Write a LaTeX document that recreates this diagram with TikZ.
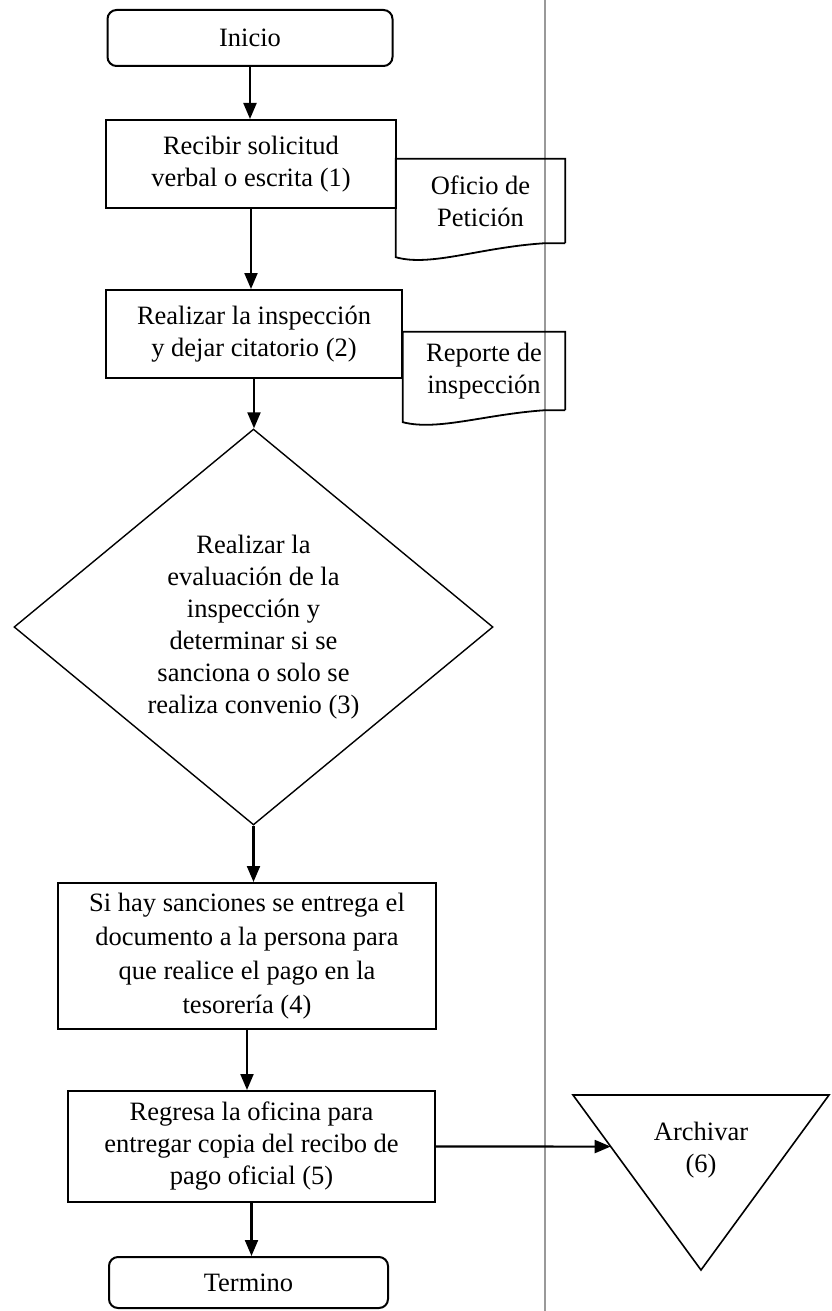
\documentclass[tikz,border=0pt]{standalone}
\usepackage{fontspec}
\setmainfont{Liberation Serif}
\usepackage{tikz}
\usetikzlibrary{arrows.meta, shapes.geometric}

\begin{document}
\begin{tikzpicture}[x=1pt, y=-1pt,
		font=\fontsize{26.5}{32}\selectfont,
		proceso/.style={draw, line width=2pt, align=center, inner sep=0pt},
		terminal/.style={proceso, rounded corners=9pt},
		decision/.style={diamond, draw, line width=1.4pt, align=center, inner sep=0pt},
		documento/.style={align=center, inner sep=0pt},
		borde/.style={line width=1.8pt},
		flecha/.style={line width=2.1pt, -{Triangle[length=16pt,width=13pt]}},
		carril/.style={gray!80, line width=2pt}]
		\useasboundingbox (0,0) rectangle (831,1311);

		% Carril
		\draw[carril] (544.5,0) -- (544.5,1311);

		% Pasos
		\node[terminal, minimum width=285pt, minimum height=56pt] (inicio) at (250,38) {Inicio};
		\node[proceso, minimum width=290pt, minimum height=88pt] (recibir) at (251,164) {Recibir solicitud\\verbal o escrita (1)};
		\node[proceso, minimum width=296pt, minimum height=88pt] (inspeccion) at (254,334) {Realizar la inspección\\y dejar citatorio (2)};
		\node[decision, minimum width=479pt, minimum height=391pt] (evaluacion) at (253.5,627)
			{Realizar la\\evaluación de la\\inspección y\\determinar si se\\sanciona o solo se\\realiza convenio (3)};
		\node[proceso, minimum width=378pt, minimum height=146pt, font=\fontsize{26.5}{34}\selectfont] (sancion) at (247,956)
			{Si hay sanciones se entrega el\\documento a la persona para\\que realice el pago en la\\tesorería (4)};
		\node[proceso, minimum width=367pt, minimum height=111pt] (regreso) at (251.5,1146.5)
			{Regresa la oficina para\\entregar copia del recibo de\\pago oficial (5)};
		\node[terminal, minimum width=279pt, minimum height=51pt] (termino) at (248.5,1282.5) {Termino};

		% Documentos
		\node[documento, minimum width=169pt, minimum height=84pt] (oficio) at (480.5,201) {Oficio de\\Petición};
		\draw[borde] (oficio.south east) -- (oficio.north east) -- (oficio.north west) -- ([yshift=-14pt]oficio.south west)
			.. controls +(35pt,-10pt) and +(-65pt,-4pt) .. ([xshift=-20pt]oficio.south east) -- (oficio.south east);
		\node[documento, minimum width=162pt, minimum height=78pt] (reporte) at (484,371) {Reporte de\\inspección};
		\draw[borde] (reporte.south east) -- (reporte.north east) -- (reporte.north west) -- ([yshift=-12pt]reporte.south west)
			.. controls +(35pt,-9pt) and +(-60pt,-4pt) .. ([xshift=-20pt]reporte.south east) -- (reporte.south east);

		% Archivo
		\coordinate (trA) at (573,1095);
		\coordinate (trB) at (829,1095);
		\coordinate (trC) at (701,1270);
		\draw[line width=1.6pt] (trA) -- (trB) -- (trC) -- cycle;
		\node[documento] (archivar) at (701,1150) {Archivar\\(6)};

		% Flechas
		\draw[flecha] (inicio.south) -- (inicio.south |- recibir.north);
		\draw[flecha] (recibir.south) -- (recibir.south |- inspeccion.north);
		\draw[flecha] (inspeccion.south) -- (inspeccion.south |- evaluacion.north);
		\draw[flecha] (evaluacion.south) -- (evaluacion.south |- sancion.north);
		\draw[flecha] (sancion.south) -- (sancion.south |- regreso.north);
		\draw[flecha] (regreso.south) -- (regreso.south |- termino.north);
		\coordinate (finr) at (regreso.east -| trB);
		\draw[flecha] (regreso.east) -- (intersection of regreso.east--finr and trA--trC);
	\end{tikzpicture}
\end{document}
